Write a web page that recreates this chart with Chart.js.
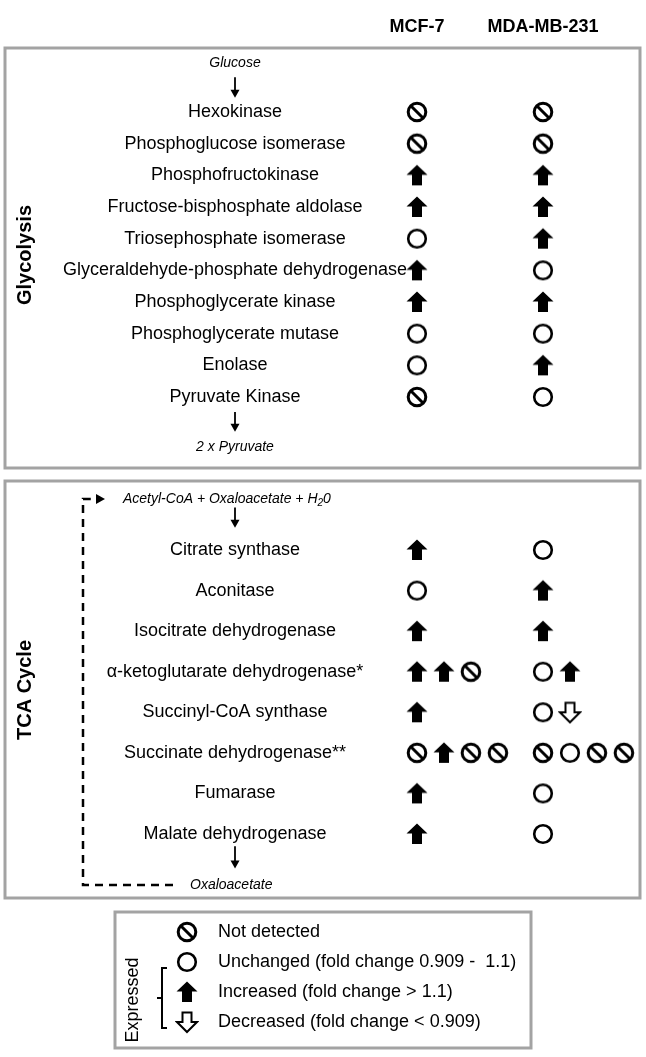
<!DOCTYPE html>
<html>
<head>
<meta charset="utf-8">
<script src="https://cdn.jsdelivr.net/npm/chart.js@4.4.0/dist/chart.umd.min.js"></script>
<style>
body{margin:0;background:#fff;}
canvas{display:block;}
</style>
</head>
<body>
<canvas id="pathwayChart" width="646" height="1057"></canvas>
<script>
// Data
const cellLines=['MCF-7','MDA-MB-231'];
const glyEnzymes=['Hexokinase','Phosphoglucose isomerase','Phosphofructokinase','Fructose-bisphosphate aldolase','Triosephosphate isomerase','Glyceraldehyde-phosphate dehydrogenase','Phosphoglycerate kinase','Phosphoglycerate mutase','Enolase','Pyruvate Kinase'];
const glyMCF=['nd','nd','up','up','un','up','up','un','un','nd'];
const glyMDA=['nd','nd','up','up','up','un','up','un','up','un'];
const tcaEnzymes=['Citrate synthase','Aconitase','Isocitrate dehydrogenase','α-ketoglutarate dehydrogenase*','Succinyl-CoA synthase','Succinate dehydrogenase**','Fumarase','Malate dehydrogenase'];
const tcaMCF=[['up'],['un'],['up'],['up','up','nd'],['up'],['nd','up','nd','nd'],['up'],['up']];
const tcaMDA=[['un'],['up'],['up'],['un','up'],['un','dn'],['nd','un','nd','nd'],['un'],['un']];
const legendKeys=['nd','un','up','dn'];
const legendLabels=['Not detected','Unchanged (fold change 0.909 -  1.1)','Increased (fold change > 1.1)','Decreased (fold change < 0.909)'];

const W=646,H=1057;
const FONT='"Liberation Sans", Arial, sans-serif';

// icon glyphs used as point styles
function makeIcon(kind){
  const c=document.createElement('canvas');c.width=24;c.height=24;
  const g=c.getContext('2d');
  g.strokeStyle='#000';g.fillStyle='#000';
  if(kind==='nd'||kind==='un'){
    g.lineWidth=kind==='nd'?3:2.6;
    g.beginPath();g.arc(12,12,8.8,0,Math.PI*2);g.stroke();
    if(kind==='nd'){g.beginPath();g.moveTo(6,6);g.lineTo(18,18);g.stroke();}
  }else if(kind==='up'){
    g.beginPath();g.moveTo(12,1.5);g.lineTo(22.5,11.5);g.lineTo(17,11.5);g.lineTo(17,22);
    g.lineTo(7,22);g.lineTo(7,11.5);g.lineTo(1.5,11.5);g.closePath();g.fill();
  }else{
    g.lineWidth=2;
    g.beginPath();g.moveTo(12,22);g.lineTo(22,12);g.lineTo(16.5,12);g.lineTo(16.5,2.5);
    g.lineTo(7.5,2.5);g.lineTo(7.5,12);g.lineTo(2,12);g.closePath();g.stroke();
  }
  return c;
}
const icons={};
legendKeys.forEach(k=>icons[k]=makeIcon(k));

// scale ranges so that rows / columns land where the figure has them
function lin(p0,v0,p1,v1,size){const k=(p1-p0)/(v1-v0);const min=v0-p0/k;return {min:min,max:min+size/k};}
const xR=lin(417,0,543,1,W);
const gR=lin(112,0,397,9,H);
const tR=lin(550,0,834,7,H);
const subStep=0.214;

function glyPoints(list,col){return list.map((s,i)=>({x:col,y:i,s:s}));}
function tcaPoints(list,col){return list.flatMap((arr,i)=>arr.map((s,k)=>({x:col+k*subStep,y:i,s:s})));}

function downArrow(ctx,x,y0,y1){
  ctx.lineWidth=1.8;
  ctx.beginPath();ctx.moveTo(x,y0);ctx.lineTo(x,y1-6);ctx.stroke();
  ctx.beginPath();ctx.moveTo(x-4.5,y1-8);ctx.lineTo(x+4.5,y1-8);ctx.lineTo(x,y1);ctx.closePath();ctx.fill();
}

const pathwayPlugin={
  id:'pathway',
  beforeDraw(chart){
    const {ctx,scales}=chart;
    const yG=scales.yG,yT=scales.yT,x=scales.x;
    ctx.save();
    ctx.fillStyle='#fff';ctx.fillRect(0,0,W,H);
    // panels
    ctx.strokeStyle='#a3a3a3';ctx.lineWidth=3;
    ctx.strokeRect(5,48,635,420);
    ctx.strokeRect(5,481,635,417);
    ctx.strokeRect(115,912,416,136);
    ctx.fillStyle='#000';ctx.strokeStyle='#000';
    ctx.textBaseline='middle';ctx.textAlign='center';
    // column headers
    ctx.font='bold 18px '+FONT;
    cellLines.forEach((n,i)=>ctx.fillText(n,x.getPixelForValue(i),27));
    // side titles
    ctx.font='bold 20px '+FONT;
    [['Glycolysis',255],['TCA Cycle',690]].forEach(t=>{
      ctx.save();ctx.translate(25,t[1]);ctx.rotate(-Math.PI/2);ctx.fillText(t[0],0,0);ctx.restore();
    });
    // enzyme names
    ctx.font='18px '+FONT;
    glyEnzymes.forEach((n,i)=>ctx.fillText(n,235,yG.getPixelForValue(i)));
    tcaEnzymes.forEach((n,i)=>ctx.fillText(n,235,yT.getPixelForValue(i)));
    // substrates
    ctx.font='italic 14px '+FONT;
    ctx.fillText('Glucose',235,yG.getPixelForValue(-1.55));
    ctx.fillText('2 x Pyruvate',235,yG.getPixelForValue(10.58));
    downArrow(ctx,235,yG.getPixelForValue(-1.1),yG.getPixelForValue(-0.45));
    downArrow(ctx,235,yG.getPixelForValue(9.47),yG.getPixelForValue(10.1));
    ctx.textAlign='left';
    const ay=yT.getPixelForValue(-1.26);
    let s='Acetyl-CoA + Oxaloacetate + H';
    ctx.fillText(s,123,ay);
    let w=ctx.measureText(s).width;
    ctx.font='italic 10px '+FONT;ctx.fillText('2',123+w,ay+4);
    const w2=ctx.measureText('2').width;
    ctx.font='italic 14px '+FONT;ctx.fillText('0',123+w+w2,ay);
    const oy=yT.getPixelForValue(8.26);
    ctx.fillText('Oxaloacetate',190,oy);
    downArrow(ctx,235,yT.getPixelForValue(-1.05),yT.getPixelForValue(-0.55));
    downArrow(ctx,235,yT.getPixelForValue(7.3),yT.getPixelForValue(7.85));
    // cycle return line
    ctx.lineWidth=2.5;ctx.setLineDash([8,6]);
    ctx.beginPath();ctx.moveTo(173,oy);ctx.lineTo(83,oy);ctx.lineTo(83,ay);ctx.lineTo(93,ay);ctx.stroke();
    ctx.setLineDash([]);
    ctx.beginPath();ctx.moveTo(96,ay-5);ctx.lineTo(105,ay);ctx.lineTo(96,ay+5);ctx.closePath();ctx.fill();
    // legend
    ctx.font='18px '+FONT;
    legendKeys.forEach((k,i)=>{
      const ly=932+i*30;
      ctx.drawImage(icons[k],187-12,ly-12);
      ctx.fillText(legendLabels[i],218,ly);
    });
    ctx.save();ctx.translate(133,1000);ctx.rotate(-Math.PI/2);ctx.textAlign='center';ctx.fillText('Expressed',0,0);ctx.restore();
    ctx.lineWidth=2;
    ctx.beginPath();ctx.moveTo(167,968);ctx.lineTo(162,968);ctx.lineTo(162,1028);ctx.lineTo(167,1028);ctx.stroke();
    ctx.beginPath();ctx.moveTo(162,998);ctx.lineTo(157,998);ctx.stroke();
    ctx.restore();
  }
};

new Chart(document.getElementById('pathwayChart'),{
  type:'scatter',
  data:{
    datasets:[
      {label:'Glycolysis MCF-7',yAxisID:'yG',data:glyPoints(glyMCF,0)},
      {label:'Glycolysis MDA-MB-231',yAxisID:'yG',data:glyPoints(glyMDA,1)},
      {label:'TCA MCF-7',yAxisID:'yT',data:tcaPoints(tcaMCF,0)},
      {label:'TCA MDA-MB-231',yAxisID:'yT',data:tcaPoints(tcaMDA,1)}
    ]
  },
  options:{
    responsive:false,
    animation:false,
    events:[],
    layout:{padding:0,autoPadding:false},
    elements:{point:{pointStyle:c=>icons[c.raw.s]}},
    scales:{
      x:{type:'linear',display:false,min:xR.min,max:xR.max},
      yG:{type:'linear',display:false,reverse:true,min:gR.min,max:gR.max},
      yT:{type:'linear',display:false,reverse:true,min:tR.min,max:tR.max}
    },
    plugins:{legend:{display:false},tooltip:{enabled:false}},
    clip:false
  },
  plugins:[pathwayPlugin]
});
</script>
</body>
</html>
